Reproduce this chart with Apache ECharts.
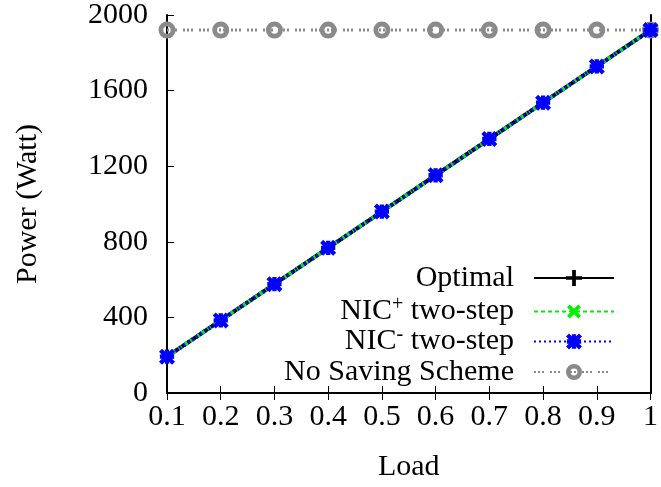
<!DOCTYPE html>
<html><head><meta charset="utf-8">
<script src="https://cdn.jsdelivr.net/npm/echarts@6/dist/echarts.min.js"></script>
<style>html,body{margin:0;padding:0;background:#fff}#c{width:661px;height:487px}</style>
</head><body><div id="c"></div>
<script>
const loads = ['0.1','0.2','0.3','0.4','0.5','0.6','0.7','0.8','0.9','1'];
const optimal = [192, 384, 576, 768, 960, 1152, 1344, 1536, 1728, 1920];
const nicPlus = [192, 384, 576, 768, 960, 1152, 1344, 1536, 1728, 1920];
const nicMinus = [192, 384, 576, 768, 960, 1152, 1344, 1536, 1728, 1920];
const noSaving = [1920, 1920, 1920, 1920, 1920, 1920, 1920, 1920, 1920, 1920];
const yTicks = [0, 400, 800, 1200, 1600, 2000];

const FONT = 'Liberation Serif';
const FS = 30;
const plusPath = 'path://M-1.4,-6H1.4V-1.4H6V1.4H1.4V6H-1.4V1.4H-6V-1.4H-1.4Z';
const starPath = 'path://M-2,-6.6H2V6.6H-2Z M-6.6,-2H6.6V2H-6.6Z M-4.6,-7.4L7.4,4.6L4.6,7.4L-7.4,-4.6Z M4.6,-7.4L7.4,-4.6L-4.6,7.4L-7.4,4.6Z';
const ringPath = 'path://M0,-6A6,6 0 1,1 0,6A6,6 0 1,1 0,-6Z M0,-2.6A2.6,2.6 0 1,0 0,2.6A2.6,2.6 0 1,0 0,-2.6Z';

const names = ['Optimal', 'NIC+ two-step', 'NIC- two-step', 'No Saving Scheme'];
function fmt(n){
  if (n === 'NIC+ two-step') return '{t|NIC}{s|+}{t| two-step}';
  if (n === 'NIC- two-step') return '{t|NIC}{s|-}{t| two-step}';
  return '{t|' + n + '}';
}
const rich = {
  t: {fontFamily: FONT, fontSize: FS, color: '#000'},
  s: {fontFamily: FONT, fontSize: 20, color: '#000', verticalAlign: 'top', padding: [0, 0, 13, 0]}
};
const legendTops = [263, 295, 325, 357];
const legends = names.map((n, i) => ({
  data: [n], right: 46, top: legendTops[i], padding: 0,
  align: 'right', itemWidth: 80, itemHeight: 20,
  formatter: (name) => fmt(name) + '{g|}',
  textStyle: {rich: Object.assign({g: {width: 15}}, rich)},
  selectedMode: false
}));

const chart = echarts.init(document.getElementById('c'), null, {renderer: 'canvas'});
chart.setOption({
  animation: false,
  backgroundColor: '#fff',
  textStyle: {fontFamily: FONT},
  grid: {left: 167, right: 9, top: 13, bottom: 94, show: false},
  legend: legends,
  xAxis: [{
    type: 'category', data: loads, boundaryGap: false,
    name: 'Load', nameLocation: 'middle', nameGap: 59,
    nameTextStyle: {fontFamily: FONT, fontSize: FS, color: '#000'},
    axisLine: {lineStyle: {color: '#000', width: 2}},
    axisTick: {inside: true, length: 7, lineStyle: {color: '#000', width: 1}},
    axisLabel: {fontFamily: FONT, fontSize: FS, color: '#000', margin: 9},
    splitLine: {show: false}
  }, {
    type: 'category', data: loads, boundaryGap: false, position: 'top',
    axisLine: {lineStyle: {color: '#000', width: 2}},
    axisTick: {inside: true, length: 7, lineStyle: {color: '#000', width: 1}},
    axisLabel: {show: false}, splitLine: {show: false}
  }],
  yAxis: [{
    type: 'value', min: 0, max: 2000, interval: 400,
    name: 'Power (Watt)', nameLocation: 'middle', nameGap: 124,
    nameTextStyle: {fontFamily: FONT, fontSize: FS, color: '#000'},
    axisLine: {show: true, lineStyle: {color: '#000', width: 2}},
    axisTick: {show: true, inside: true, length: 7, lineStyle: {color: '#000', width: 1}},
    axisLabel: {fontFamily: FONT, fontSize: FS, color: '#000', margin: 19,
      formatter: (v) => yTicks.includes(v) ? String(v) : ''},
    splitLine: {show: false}
  }, {
    type: 'value', min: 0, max: 2000, interval: 400, position: 'right',
    axisLine: {show: true, lineStyle: {color: '#000', width: 2}},
    axisTick: {show: false}, axisLabel: {show: false}, splitLine: {show: false}
  }],
  series: [{
    name: 'No Saving Scheme', type: 'line', data: noSaving, z: 1,
    symbol: ringPath, symbolSize: 17,
    lineStyle: {color: '#8a8a8a', width: 3, type: [2, 2, 2, 2, 2, 6]},
    itemStyle: {color: '#8a8a8a'}
  }, {
    name: 'Optimal', type: 'line', data: optimal, z: 2,
    symbol: plusPath, symbolSize: 13,
    lineStyle: {color: '#000', width: 4},
    itemStyle: {color: '#000'}
  }, {
    name: 'NIC+ two-step', type: 'line', data: nicPlus, z: 3,
    symbol: plusPath, symbolRotate: 45, symbolSize: 15,
    lineStyle: {color: '#00ee00', width: 4, type: [4, 3]},
    itemStyle: {color: '#00ee00'}
  }, {
    name: 'NIC- two-step', type: 'line', data: nicMinus, z: 4,
    symbol: starPath, symbolSize: 16,
    lineStyle: {color: '#0000ff', width: 4, type: [2, 3]},
    itemStyle: {color: '#0000ff'}
  }]
});
</script></body></html>
